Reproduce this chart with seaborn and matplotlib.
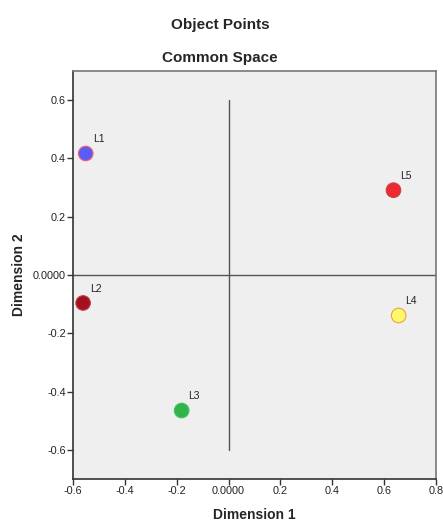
import matplotlib
matplotlib.use("Agg")
import matplotlib.pyplot as plt
import seaborn as sns
import pandas as pd

labels = ["L1", "L2", "L3", "L4", "L5"]
dim1 = [-0.551, -0.561, -0.181, 0.656, 0.636]
dim2 = [0.417, -0.096, -0.465, -0.139, 0.291]
face_colors = ["#5b5bf7", "#a3111f", "#2fb54a", "#fdf76c", "#ec2a32"]
edge_colors = ["#f06070", "#c04050", "#40c060", "#f0a040", "#d04040"]
xticks = [-0.6, -0.4, -0.2, 0.0, 0.2, 0.4, 0.6, 0.8]
xticklabels = ["-0.6", "-0.4", "-0.2", "0.0000", "0.2", "0.4", "0.6", "0.8"]
yticks = [-0.6, -0.4, -0.2, 0.0, 0.2, 0.4, 0.6]
yticklabels = ["-0.6", "-0.4", "-0.2", "0.0000", "0.2", "0.4", "0.6"]

sns.set_style("white")
plt.rcParams["font.family"] = ["Liberation Sans", "DejaVu Sans"]

df = pd.DataFrame({"label": labels, "Dimension 1": dim1, "Dimension 2": dim2})

fig = plt.figure(figsize=(4.43, 5.24), dpi=100)
ax = fig.add_axes([73 / 443, 1 - 479 / 524, (436 - 73) / 443, (479 - 71) / 524])
ax.set_facecolor("#efefef")

ax.set_xlim(-0.6, 0.8)
ax.set_ylim(-0.7, 0.7)

# reference lines
ax.axhline(0, color="#555555", lw=1.0, zorder=1)
ax.plot([0, 0], [-0.6, 0.6], color="#555555", lw=1.0, zorder=1)

sns.scatterplot(data=df, x="Dimension 1", y="Dimension 2", hue="label",
                palette=dict(zip(labels, face_colors)), s=110, legend=False,
                ax=ax, zorder=3, linewidth=0)
ax.scatter(dim1, dim2, s=110, facecolors="none", edgecolors=edge_colors,
           linewidths=0.8, zorder=4)

for lab, x, y in zip(labels, dim1, dim2):
    ax.annotate(lab, (x, y), xytext=(5, 8), textcoords="offset points",
                fontsize=7.5, color="#222222", zorder=5)

ax.set_xticks(xticks)
ax.set_xticklabels(xticklabels)
ax.set_yticks(yticks)
ax.set_yticklabels(yticklabels)
ax.tick_params(axis="both", labelsize=7.8, length=4, width=1, direction="out",
               color="#333333", labelcolor="#222222", pad=1,
               bottom=True, left=True)

for side in ["top", "right"]:
    ax.spines[side].set_color("#777777")
    ax.spines[side].set_linewidth(1.2)
for side in ["left", "bottom"]:
    ax.spines[side].set_color("#333333")
    ax.spines[side].set_linewidth(1.2)

ax.set_xlabel("Dimension 1", fontsize=10, fontweight="bold", labelpad=9)
ax.set_ylabel("Dimension 2", fontsize=10, fontweight="bold", labelpad=5)

fig.text(220 / 443, 1 - 25 / 524, "Object Points", ha="center", va="center",
         fontsize=11, fontweight="bold")
fig.text(220 / 443, 1 - 58 / 524, "Common Space", ha="center", va="center",
         fontsize=11, fontweight="bold")

fig.savefig("out.png", dpi=100)
